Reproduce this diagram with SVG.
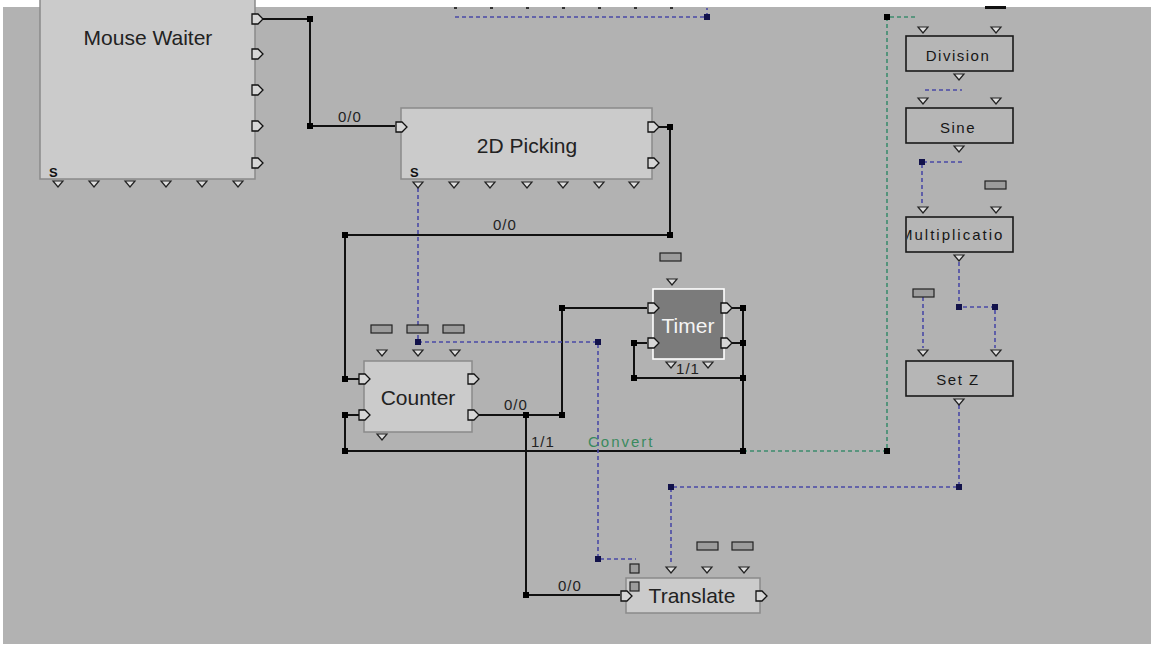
<svg xmlns="http://www.w3.org/2000/svg" width="1151" height="647" viewBox="0 0 1151 647">
<defs>
<style>
.box{fill:#cbcbcb;stroke:#8a8a8a;stroke-width:1.5}
.rbox{fill:#b6b6b6;stroke:#1a1a1a;stroke-width:1.6}
.tbox{fill:#7b7b7b;stroke:#ffffff;stroke-width:1.6}
.wire{fill:none;stroke:#111;stroke-width:2}
.dash{fill:none;stroke:#4a4aa6;stroke-width:1.6;stroke-dasharray:4 3}
.gdash{fill:none;stroke:#3d8c6e;stroke-width:1.6;stroke-dasharray:4 3}
.op{fill:#d6d6d6;stroke:#111;stroke-width:1.3}
.tp{fill:#dedede;stroke:#222;stroke-width:1.2}
.j{fill:#000}
.jb{fill:#12124a}
.prm{fill:#9c9c9c;stroke:#222;stroke-width:1.2}
.t{font-family:"Liberation Sans",Arial,sans-serif;fill:#222}
.title{font-size:21px;text-anchor:middle}
.rt{font-size:15px;letter-spacing:1.5px;text-anchor:middle;fill:#161616}
.lbl{font-size:15px;letter-spacing:1px}
.s{font-size:13px;font-weight:bold;fill:#111}
</style>
<path id="op" class="op" d="M0,-5 H6 L11,0 L6,5 H0 Z"/>
<path id="tp" class="tp" d="M-5,-3 H5 L0,3 Z"/>
<rect id="j" class="j" x="-3" y="-3" width="6" height="6"/>
<rect id="jb" class="jb" x="-3" y="-3" width="6" height="6"/>
<rect id="prm" class="prm" x="0" y="0" width="21" height="8"/>
<clipPath id="mclip"><rect x="907" y="217" width="97" height="35"/></clipPath>
</defs>

<rect x="0" y="0" width="1151" height="647" fill="#ffffff"/>
<rect x="3" y="7" width="1148" height="637" fill="#b2b2b2"/>

<g id="connectors">
  <!-- solid wires -->
  <path class="wire" d="M263,19 H310 V126 H395"/>
  <path class="wire" d="M659,127 H670 V235 H345 V379 H359"/>
  <path class="wire" d="M345,415 H359 M345,415 V451 H743"/>
  <path class="wire" d="M479,415 H562 V308 H647"/>
  <path class="wire" d="M526,415 V595 H620"/>
  <path class="wire" d="M647,343 H634 V378 H743"/>
  <path class="wire" d="M732,308 H743 V451 M732,343 H743"/>
  <!-- blue dashed -->
  <path class="dash" d="M455,17 H707 V8"/>
  <path class="dash" d="M418,188 V342 H598 V559 H636"/>
  <path class="dash" d="M959,405 V487 H671 V564"/>
  <path class="dash" d="M925,90 H962"/>
  <path class="dash" d="M962,162 H922 V205"/>
  <path class="dash" d="M959,262 V307 H995 V348"/>
  <path class="dash" d="M923,297 V348"/>
  <!-- green dashed -->
  <path class="gdash" d="M743,451 H887 V17 H918"/>
  <!-- junctions -->
  <use href="#j" x="310" y="19"/>
  <use href="#j" x="310" y="126"/>
  <use href="#j" x="670" y="127"/>
  <use href="#j" x="670" y="235"/>
  <use href="#j" x="345" y="235"/>
  <use href="#j" x="345" y="379"/>
  <use href="#j" x="345" y="415"/>
  <use href="#j" x="345" y="451"/>
  <use href="#j" x="526" y="415"/>
  <use href="#j" x="562" y="415"/>
  <use href="#j" x="562" y="308"/>
  <use href="#j" x="634" y="343"/>
  <use href="#j" x="634" y="378"/>
  <use href="#j" x="743" y="308"/>
  <use href="#j" x="743" y="343"/>
  <use href="#j" x="743" y="378"/>
  <use href="#j" x="743" y="451"/>
  <use href="#j" x="526" y="595"/>
  <use href="#j" x="887" y="451"/>
  <use href="#j" x="887" y="17"/>
  <use href="#jb" x="707" y="17"/>
  <use href="#jb" x="418" y="342"/>
  <use href="#jb" x="598" y="342"/>
  <use href="#jb" x="598" y="559"/>
  <use href="#jb" x="671" y="487"/>
  <use href="#jb" x="959" y="487"/>
  <use href="#jb" x="922" y="162"/>
  <use href="#jb" x="959" y="307"/>
  <use href="#jb" x="995" y="307"/>
  <!-- labels -->
  <text class="t lbl" x="338" y="122">0/0</text>
  <text class="t lbl" x="493" y="230">0/0</text>
  <text class="t lbl" x="504" y="410">0/0</text>
  <text class="t lbl" x="558" y="591">0/0</text>
  <text class="t lbl" x="531" y="447">1/1</text>
  <text class="t" x="588" y="447" style="font-size:15px;letter-spacing:2px;fill:#3a8a5e">Convert</text>
</g>

<g id="offscreen-ports">
  <rect x="454" y="7" width="3" height="2" fill="#333"/>
  <rect x="490" y="7" width="3" height="2" fill="#333"/>
  <rect x="526" y="7" width="3" height="2" fill="#333"/>
  <rect x="562" y="7" width="3" height="2" fill="#333"/>
  <rect x="598" y="7" width="3" height="2" fill="#333"/>
  <rect x="634" y="7" width="3" height="2" fill="#333"/>
  <rect x="670" y="7" width="3" height="2" fill="#333"/>
  <rect x="985" y="6" width="21" height="3" fill="#111"/>
</g>

<g id="mouse-waiter">
  <rect class="box" x="40" y="-5" width="215" height="184"/>
  <text class="t title" x="148" y="45">Mouse Waiter</text>
  <text class="t s" x="49" y="177">S</text>
  <use href="#op" x="252" y="19"/>
  <use href="#op" x="252" y="54"/>
  <use href="#op" x="252" y="90"/>
  <use href="#op" x="252" y="126"/>
  <use href="#op" x="252" y="163"/>
  <use href="#tp" x="58" y="184"/>
  <use href="#tp" x="94" y="184"/>
  <use href="#tp" x="130" y="184"/>
  <use href="#tp" x="166" y="184"/>
  <use href="#tp" x="202" y="184"/>
  <use href="#tp" x="238" y="184"/>
</g>

<g id="picking-2d">
  <rect class="box" x="401" y="108" width="251" height="71"/>
  <text class="t title" x="527" y="153">2D Picking</text>
  <text class="t s" x="410" y="177">S</text>
  <use href="#op" x="396" y="127"/>
  <use href="#op" x="648" y="127"/>
  <use href="#op" x="648" y="163"/>
  <use href="#tp" x="418" y="185"/>
  <use href="#tp" x="454" y="185"/>
  <use href="#tp" x="490" y="185"/>
  <use href="#tp" x="527" y="185"/>
  <use href="#tp" x="563" y="185"/>
  <use href="#tp" x="599" y="185"/>
  <use href="#tp" x="634" y="185"/>
</g>

<g id="counter">
  <use href="#prm" x="371" y="325"/>
  <use href="#prm" x="407" y="325"/>
  <use href="#prm" x="443" y="325"/>
  <use href="#tp" x="382" y="353"/>
  <use href="#tp" x="418" y="353"/>
  <use href="#tp" x="455" y="353"/>
  <rect class="box" x="364" y="361" width="108" height="71"/>
  <text class="t title" x="418" y="405">Counter</text>
  <use href="#op" x="359" y="379"/>
  <use href="#op" x="359" y="415"/>
  <use href="#op" x="468" y="379"/>
  <use href="#op" x="468" y="415"/>
  <use href="#tp" x="382" y="437"/>
</g>

<g id="timer">
  <use href="#prm" x="660" y="253"/>
  <use href="#tp" x="672" y="282"/>
  <rect class="tbox" x="653" y="289" width="71" height="70"/>
  <text class="t title" x="688" y="333" style="fill:#f4f4f4">Timer</text>
  <use href="#op" x="648" y="308"/>
  <use href="#op" x="648" y="343"/>
  <use href="#op" x="721" y="308"/>
  <use href="#op" x="721" y="343"/>
  <use href="#tp" x="671" y="365"/>
  <use href="#tp" x="708" y="365"/>
  <text class="t lbl" x="688" y="374" style="text-anchor:middle">1/1</text>
</g>

<g id="translate">
  <use href="#prm" x="697" y="542"/>
  <use href="#prm" x="732" y="542"/>
  <rect class="prm" x="630" y="564" width="9" height="9"/>
  <use href="#tp" x="671" y="570"/>
  <use href="#tp" x="707" y="570"/>
  <use href="#tp" x="744" y="570"/>
  <rect class="box" x="626" y="578" width="134" height="35"/>
  <rect class="prm" x="630" y="582" width="9" height="9"/>
  <text class="t title" x="692" y="603">Translate</text>
  <use href="#op" x="621" y="596"/>
  <use href="#op" x="756" y="596"/>
</g>

<g id="division">
  <use href="#tp" x="923" y="30"/>
  <use href="#tp" x="996" y="30"/>
  <rect class="rbox" x="906" y="36" width="107" height="35"/>
  <text class="t rt" x="958" y="61">Division</text>
  <use href="#tp" x="959" y="77"/>
</g>

<g id="sine">
  <use href="#tp" x="923" y="101"/>
  <use href="#tp" x="996" y="101"/>
  <rect class="rbox" x="906" y="108" width="107" height="35"/>
  <text class="t rt" x="958" y="133">Sine</text>
  <use href="#tp" x="959" y="149"/>
  <use href="#prm" x="985" y="181"/>
</g>

<g id="multiplication">
  <use href="#tp" x="923" y="210"/>
  <use href="#tp" x="996" y="210"/>
  <rect class="rbox" x="906" y="217" width="107" height="35"/>
  <text class="t" x="900" y="240" clip-path="url(#mclip)" style="font-size:15px;letter-spacing:2px;fill:#161616">Multiplication</text>
  <use href="#tp" x="959" y="258"/>
  <use href="#prm" x="913" y="289"/>
</g>

<g id="set-z">
  <use href="#tp" x="923" y="353"/>
  <use href="#tp" x="996" y="353"/>
  <rect class="rbox" x="906" y="361" width="107" height="35"/>
  <text class="t rt" x="958" y="385">Set Z</text>
  <use href="#tp" x="959" y="402"/>
</g>
</svg>
